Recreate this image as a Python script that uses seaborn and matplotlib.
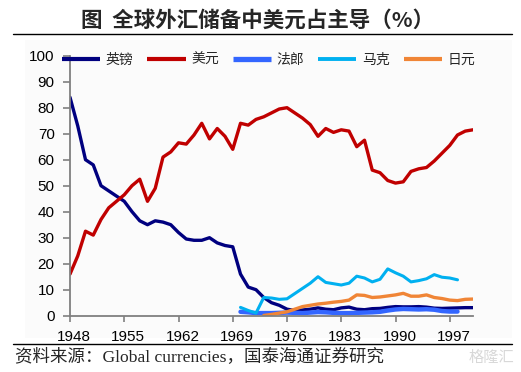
import numpy as np
import pandas as pd
import matplotlib
matplotlib.use('Agg')
import matplotlib.pyplot as plt
import matplotlib.transforms as mtransforms
from matplotlib.lines import Line2D
from matplotlib.patches import Rectangle
import seaborn as sns

# ---------------- data ----------------
years = list(range(1948, 2001))
sterling = [84, 73, 60, 58, 50, 48, 46, 44, 40, 36.5,
            35, 36.5, 36, 35, 32, 29.5, 29, 29, 30, 28,
            27, 26.5, 16, 11, 10, 7, 5, 4, 2.5, 2,
            2.2, 2.5, 3.0, 2.5, 2.3, 3.0, 3.3, 2.5, 2.3, 2.7,
            2.8, 3.2, 3.5, 3.4, 3.4, 3.5, 3.3, 2.9, 2.8, 2.9,
            3.0, 3.1, 3.1]
dollar = [16, 23, 32.5, 31, 37, 41.5, 44, 46.5, 50, 52.5,
          44, 49, 61, 63, 66.5, 66, 69.5, 74, 68, 72,
          69, 64, 74, 73.3, 75.5, 76.5, 78, 79.5, 80, 78,
          76, 73.5, 69, 72, 70.5, 71.5, 71, 65, 67.5, 56,
          55, 52, 51, 51.5, 55.5, 56.5, 57, 59.5, 62.5, 65.5,
          69.5, 71, 71.5]
franc_years = list(range(1970, 1999))
franc = [1.5, 1.3, 1.0, 1.0, 1.0, 1.1, 1.2, 1.1, 1.0, 1.2,
         1.4, 1.3, 1.1, 1.0, 1.0, 1.1, 1.2, 1.3, 1.5, 2.0,
         2.4, 2.6, 2.5, 2.4, 2.5, 2.3, 1.8, 1.6, 1.6]
mark_years = list(range(1970, 1999))
mark = [3.2, 2.0, 1.0, 7.0, 6.8, 6.3, 6.5, 8.5, 10.5, 12.5,
        15.0, 12.8, 12.3, 11.8, 12.5, 15.2, 14.5, 13.0, 14.0, 18.0,
        16.5, 15.2, 13.0, 13.5, 14.2, 15.8, 14.8, 14.5, 13.8]
yen_years = list(range(1973, 2001))
yen = [0.1, 0.5, 1.0, 1.5, 2.5, 3.5, 4.0, 4.5, 4.8, 5.2,
       5.5, 6.0, 8.0, 7.8, 7.0, 7.2, 7.6, 8.0, 8.6, 7.5,
       7.5, 8.0, 7.0, 6.6, 6.0, 5.8, 6.3, 6.4]

series_names = ['英镑', '美元', '法郎', '马克', '日元']
x_ticks = [1948, 1955, 1962, 1969, 1976, 1983, 1990, 1997]
y_ticks = [0, 10, 20, 30, 40, 50, 60, 70, 80, 90, 100]
title_text = '图  全球外汇储备中美元占主导（%）'
source_text = '资料来源：Global currencies，国泰海通证券研究'

colors = ['#00007F', '#C00000', '#3366FF', '#00B0F0', '#F08536']
widths = [2.4, 2.4, 3.2, 2.2, 2.4]

# ---------------- style ----------------
sns.set_theme(style='white')
plt.rcParams['font.family'] = ['Liberation Sans', 'Noto Sans CJK SC', 'DejaVu Sans']
plt.rcParams['axes.unicode_minus'] = False

W, H = 521, 372
fig = plt.figure(figsize=(W / 100, H / 100), dpi=100)
fig.patch.set_facecolor('white')

# faint chart-area background
fig.add_artist(Rectangle((25 / W, 1 - 338 / H), (512 - 25) / W, (338 - 40) / H,
                         transform=fig.transFigure, facecolor='#fbfbfb',
                         edgecolor='none', zorder=-10))

ax = fig.add_axes([70 / W, 1 - 315.7 / H, 403 / W, 260 / H])
ax.patch.set_alpha(0)

data_sets = [(years, sterling), (years, dollar), (franc_years, franc),
             (mark_years, mark), (yen_years, yen)]
for (xs, ys), name, c, lw in zip(data_sets, series_names, colors, widths):
    df = pd.DataFrame({'year': xs, 'share': ys})
    sns.lineplot(data=df, x='year', y='share', ax=ax, color=c, linewidth=lw,
                 label=name, solid_capstyle='round', solid_joinstyle='round')

ax.set_xlim(1948, 2000)
ax.set_ylim(0, 100)
ax.set_xticks(x_ticks)
ax.set_xticklabels([str(t) for t in x_ticks])
ax.set_yticks(y_ticks)
ax.set_yticklabels([str(t) for t in y_ticks])
ax.set_xlabel('')
ax.set_ylabel('')

for s in ['top', 'right']:
    ax.spines[s].set_visible(False)
for s in ['left', 'bottom']:
    ax.spines[s].set_color('#808080')
    ax.spines[s].set_linewidth(1.3)

ax.tick_params(axis='y', direction='out', length=5, width=1.2, color='#808080',
               pad=6, labelsize=11, left=True, labelcolor='black')
ax.tick_params(axis='x', direction='out', length=4, width=1.2, color='#808080',
               pad=6, labelsize=11, bottom=True, labelcolor='black')

offset = mtransforms.ScaledTranslation(4 / 100, 0, fig.dpi_scale_trans)
for lab in ax.get_xticklabels():
    lab.set_transform(lab.get_transform() + offset)

leg = ax.legend(loc='center left', bbox_to_anchor=(-8 / 403, 0.983), ncol=5,
                frameon=False, fontsize=10, handlelength=2.75, handletextpad=0.4,
                columnspacing=1.0, borderpad=0, borderaxespad=0)
for t in leg.get_texts():
    t.set_family(['Noto Sans CJK SC'])
for h, lw in zip(leg.get_lines(), widths):
    h.set_linewidth(lw + 0.6)
    h.set_solid_capstyle('butt')

# title and rules
fig.text(258 / W, 1 - 20.5 / H, title_text, ha='center', va='center',
         fontsize=15.5, fontweight='bold', family=['Noto Sans CJK SC'])
fig.add_artist(Line2D([13 / W, 512 / W], [1 - 33.5 / H] * 2,
                      transform=fig.transFigure, color='black', lw=1))
fig.add_artist(Line2D([13 / W, 512 / W], [1 - 344 / H] * 2,
                      transform=fig.transFigure, color='black', lw=1))
fig.text(15 / W, 1 - 357.5 / H, source_text, ha='left', va='center',
         fontsize=12.6, family=['Liberation Serif', 'Noto Sans CJK SC'])
fig.text(514 / W, 1 - 357 / H, '格隆汇', ha='right', va='center',
         fontsize=11, color='#d8d8d8', family=['Noto Sans CJK SC'])

fig.savefig('out.png', dpi=100, facecolor='white')
